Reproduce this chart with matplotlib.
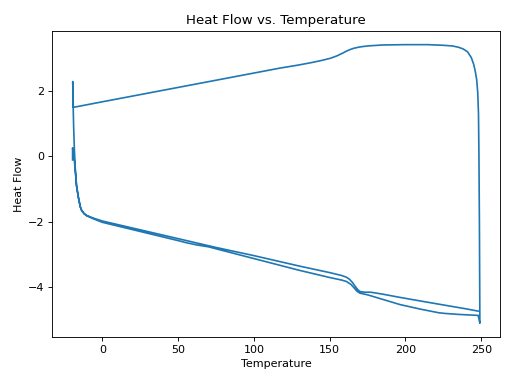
import numpy as np
import matplotlib
matplotlib.use("Agg")
import matplotlib.pyplot as plt

# first heating run (lower of the two bottom traces)
temp_heat1 = [-19.6, -19.6, -19.3, -18.8, -18.4, -17.8, -17.0, -15.8, -14.5, -13.6, -12.0,
              -10.3, -6.0, 0.0, 25.0, 50.0, 55.0, 62.0, 70.0, 100.0, 130.0, 150.0, 158.0,
              161.0, 164.0, 166.0, 168.0, 170.0, 175.0, 185.0, 196.5, 210.0, 222.0, 226.0,
              235.0, 248.0, 249.1]
flow_heat1 = [-0.11, 0.26, 0.15, 0.05, -0.15, -0.45, -0.9, -1.25, -1.55, -1.66, -1.76,
              -1.82, -1.91, -2.02, -2.30, -2.58, -2.64, -2.71, -2.77, -3.13, -3.49, -3.71, -3.79,
              -3.83, -3.92, -4.02, -4.13, -4.19, -4.24, -4.38, -4.54, -4.68, -4.79, -4.81,
              -4.84, -4.87, -5.11]

# cooling run (upper trace)
temp_cool = [249.1, 249.0, 248.8, 248.5, 248.2, 247.7, 247.0, 246.0, 245.0, 243.5, 241.0,
             238.0, 235.0, 231.0, 225.0, 215.0, 200.0, 185.0, 175.0, 170.0, 166.0, 163.5,
             161.0, 159.0, 155.0, 150.3, 145.0, 139.0, 130.0, 117.0, 100.0, 75.0, 50.0,
             25.0, 0.0, -19.1]
flow_cool = [-5.11, -4.0, -2.0, 0.0, 1.3, 1.95, 2.35, 2.62, 2.82, 3.02, 3.20,
             3.29, 3.34, 3.38, 3.40, 3.42, 3.42, 3.41, 3.38, 3.35, 3.31, 3.27,
             3.22, 3.17, 3.08, 3.00, 2.94, 2.88, 2.80, 2.70, 2.55, 2.33, 2.11,
             1.89, 1.67, 1.50]

# second heating run (upper of the two bottom traces)
temp_heat2 = [-19.5, -19.2, -18.9, -18.4, -17.8, -17.0, -15.8, -14.5, -13.6, -12.0, -10.3,
              -6.0, 0.0, 25.0, 50.0, 75.0, 100.0, 130.0, 150.0, 158.0, 161.0, 163.0, 165.0,
              167.0, 168.5, 170.0, 173.0, 177.0, 185.0, 196.5, 210.0, 225.0, 240.0, 248.0]
flow_heat2 = [2.29, 1.5, 0.9, 0.2, -0.4, -0.9, -1.25, -1.55, -1.66, -1.75, -1.81,
              -1.89, -1.98, -2.25, -2.52, -2.79, -3.04, -3.36, -3.56, -3.65, -3.70, -3.76, -3.86,
              -3.99, -4.08, -4.14, -4.16, -4.16, -4.22, -4.32, -4.43, -4.55, -4.67, -4.74]

temperature = np.concatenate([temp_heat1, temp_cool, temp_heat2])
heat_flow = np.concatenate([flow_heat1, flow_cool, flow_heat2])

fig, ax = plt.subplots(figsize=(6.4, 4.8), dpi=80)
ax.plot(temperature, heat_flow)
ax.set_title("Heat Flow vs. Temperature")
ax.set_xlabel("Temperature")
ax.set_ylabel("Heat Flow")
fig.subplots_adjust(left=0.102, right=0.977, top=0.92, bottom=0.122)
fig.savefig("out.png", dpi=80)
